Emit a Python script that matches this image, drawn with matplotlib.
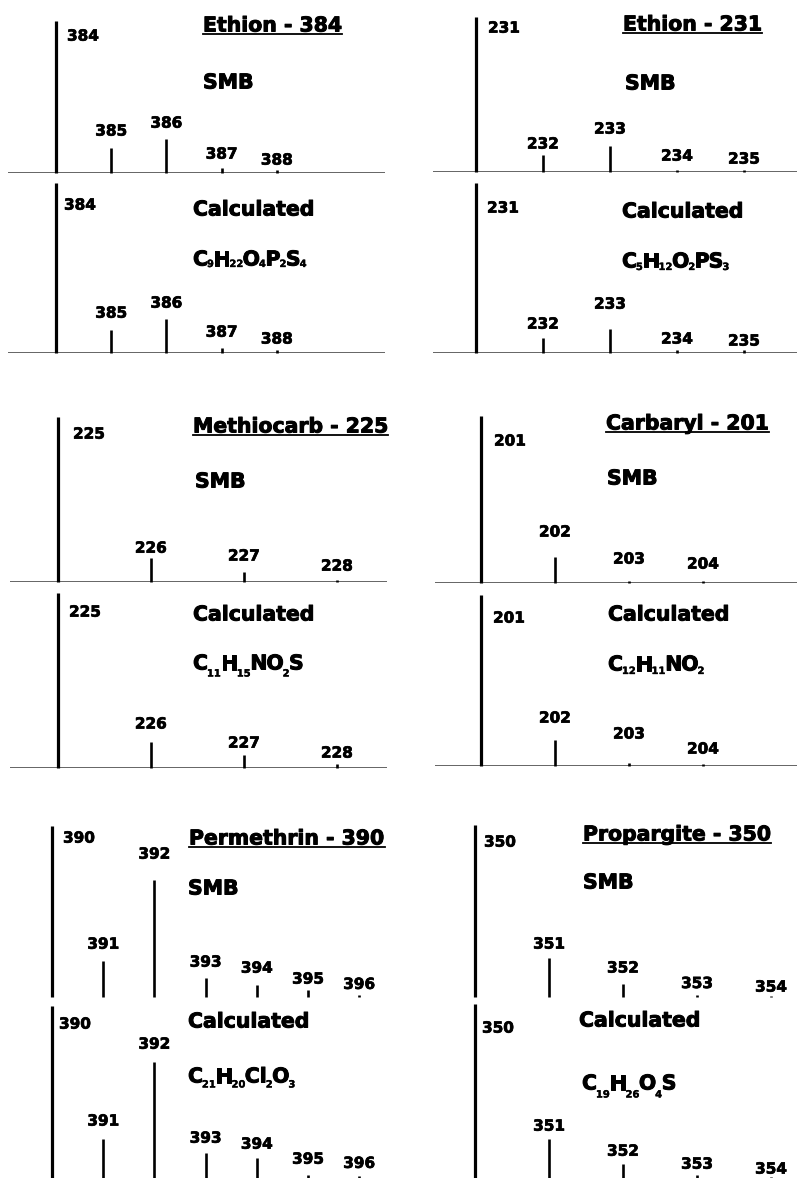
import re
import matplotlib
matplotlib.use("Agg")
import matplotlib.pyplot as plt
from matplotlib.lines import Line2D
import matplotlib.patheffects as pe

plt.rcParams['font.family'] = ['DejaVu Sans']
plt.rcParams['font.weight'] = 'bold'

# ---------------------------------------------------------------------------
# Isotope clusters: m/z and relative abundance (base peak = 100)
# ---------------------------------------------------------------------------
ethion384_mz = [384, 385, 386, 387, 388]
ethion384_smb = [100, 16.3, 22.2, 3.1, 1.8]
ethion384_calc = [100, 13.5, 20.0, 2.9, 1.8]

ethion231_mz = [231, 232, 233, 234, 235]
ethion231_smb = [100, 11.0, 16.8, 1.3, 1.3]
ethion231_calc = [100, 8.8, 14.1, 1.8, 1.8]

methiocarb_mz = [225, 226, 227, 228]
methiocarb_smb = [100, 14.5, 6.1, 1.2]
methiocarb_calc = [100, 14.9, 7.4, 2.3]

carbaryl_mz = [201, 202, 203, 204]
carbaryl_smb = [100, 15.6, 1.2, 1.2]
carbaryl_calc = [100, 15.2, 1.8, 1.2]

permethrin_mz = [390, 391, 392, 393, 394, 395, 396]
permethrin_smb = [100, 21.0, 68.4, 11.1, 7.0, 4.1, 1.0]
permethrin_calc = [100, 22.7, 67.4, 14.5, 11.6, 1.7, 1.0]

propargite_mz = [350, 351, 352, 353, 354]
propargite_smb = [100, 22.7, 7.6, 0.9, 0.6]
propargite_calc = [100, 22.4, 8.0, 1.7, 0.6]

titles = ["Ethion - 384", "Ethion - 231", "Methiocarb - 225",
          "Carbaryl - 201", "Permethrin - 390", "Propargite - 350"]
formulas = ["C9H22O4P2S4", "C5H12O2PS3", "C11H15NO2S",
            "C12H11NO2", "C21H20Cl2O3", "C19H26O4S"]

compounds = [
    (ethion384_mz, ethion384_smb, ethion384_calc),
    (ethion231_mz, ethion231_smb, ethion231_calc),
    (methiocarb_mz, methiocarb_smb, methiocarb_calc),
    (carbaryl_mz, carbaryl_smb, carbaryl_calc),
    (permethrin_mz, permethrin_smb, permethrin_calc),
    (propargite_mz, propargite_smb, propargite_calc),
]

# ---------------------------------------------------------------------------
# Page geometry (pixels from the top-left corner)
#   base_lbl : offset of the base-peak label from the stick top (right, down)
#   lift     : height of each minor-peak label centre above its stick top
#   sub_drop : how far formula subscripts sit below the letter baseline
# ---------------------------------------------------------------------------
W, H = 797, 1178
layout = [
    dict(main_x=56, ppu=55.2, span=(8, 385), baseline=True,
         smb=(172.7, 21), calc=(353, 183),
         smb_base_lbl=(11, 14), calc_base_lbl=(8, 21),
         smb_lift=[18, 17, 15, 11], calc_lift=[18, 17, 17, 12],
         title=(203, 24), smb_lbl=(203, 81), calc_lbl=(193, 208),
         formula=(193, 258), sub_drop=1.5),
    dict(main_x=476, ppu=67.0, span=(433, 797), baseline=True,
         smb=(172, 17), calc=(353, 183),
         smb_base_lbl=(12, 10), calc_base_lbl=(11, 24),
         smb_lift=[12, 18, 15, 12], calc_lift=[15, 26, 12, 10],
         title=(623, 23), smb_lbl=(625, 82), calc_lbl=(622, 210),
         formula=(622, 260), sub_drop=2.5),
    dict(main_x=58, ppu=93.0, span=(10, 387), baseline=True,
         smb=(582, 417), calc=(768, 593),
         smb_base_lbl=(15, 16), calc_base_lbl=(11, 18),
         smb_lift=[11, 17, 15], calc_lift=[19, 13, 12],
         title=(193, 425), smb_lbl=(195, 480), calc_lbl=(193, 613),
         formula=(193, 662), sub_drop=7),
    dict(main_x=481, ppu=74.0, span=(435, 797), baseline=True,
         smb=(583, 416), calc=(766, 595),
         smb_base_lbl=(13, 24), calc_base_lbl=(12, 22),
         smb_lift=[26, 23, 18], calc_lift=[23, 30, 16],
         title=(606, 422), smb_lbl=(607, 477), calc_lbl=(608, 613),
         formula=(608, 663), sub_drop=3.5),
    dict(main_x=52, ppu=51.2, span=(20, 395), baseline=False,
         smb=(997, 826), calc=(1178, 1006),
         smb_base_lbl=(11, 11), calc_base_lbl=(7, 17),
         smb_lift=[18, 27, 17, 18, 12, 12], calc_lift=[19, 19, 16, 15, 17, 14],
         title=(189, 837), smb_lbl=(188, 887), calc_lbl=(188, 1020),
         formula=(188, 1075), sub_drop=5),
    dict(main_x=475, ppu=74.0, span=(440, 797), baseline=False,
         smb=(997, 825), calc=(1178, 1004),
         smb_base_lbl=(9, 16), calc_base_lbl=(7, 23),
         smb_lift=[15, 17, 13, 10], calc_lift=[14, 14, 12, 9],
         title=(583, 833), smb_lbl=(583, 881), calc_lbl=(579, 1019),
         formula=(582, 1082), sub_drop=8),
]

BIG = 14.7      # panel headings
SUB = 7.2       # formula subscripts
NUM = 11.0      # peak labels
CAP_BIG = 7.5   # half cap height of headings, px
CAP_NUM = 5.6   # half cap height of peak labels, px
PT = 0.72       # points per pixel at 100 dpi

heavy_big = [pe.withStroke(linewidth=0.7, foreground="black")]
heavy_num = [pe.withStroke(linewidth=0.5, foreground="black")]
heavy_sub = [pe.withStroke(linewidth=0.25, foreground="black")]

fig = plt.figure(figsize=(W / 100, H / 100), dpi=100)
fig.patch.set_facecolor("white")
renderer = fig.canvas.get_renderer()


def fig_xy(px, py):
    return px / W, 1 - py / H


def heading(px, py, s, size=BIG):
    x, y = fig_xy(px, py + CAP_BIG)
    return fig.text(x, y, s, fontsize=size, fontweight="bold",
                    ha="left", va="baseline", color="black",
                    path_effects=heavy_big)


def chem_formula(px, py, formula, drop):
    """Write a molecular formula with small, lowered subscript counts."""
    base = py + CAP_BIG
    x = px
    for elem, count in re.findall(r"([A-Z][a-z]?)(\d*)", formula):
        t = fig.text(*fig_xy(x, base), elem, fontsize=BIG, fontweight="bold",
                     ha="left", va="baseline", path_effects=heavy_big)
        x += t.get_window_extent(renderer).width - 1.0
        if count:
            s = fig.text(*fig_xy(x, base + drop), count, fontsize=SUB,
                         fontweight="bold", ha="left", va="baseline",
                         path_effects=heavy_sub)
            x += s.get_window_extent(renderer).width - 0.5


def spectrum(mz, inten, geo, base_top, base_lbl, lifts):
    base_y, top_y = base_top
    x0, x1 = geo["span"]
    ax = fig.add_axes([x0 / W, 1 - base_y / H, (x1 - x0) / W, (base_y - top_y) / H])
    m0 = mz[0]
    ax.set_xlim(m0 + (x0 - geo["main_x"]) / geo["ppu"],
                m0 + (x1 - geo["main_x"]) / geo["ppu"])
    ax.set_ylim(0, 100)
    ax.axis("off")
    if geo["baseline"]:
        ax.axhline(0, color="#4a4a4a", lw=1.2, zorder=1)
    ax.vlines(mz[:1], 0, inten[:1], color="black", lw=2.3, zorder=2,
              clip_on=False)
    ax.vlines(mz[1:], 0, inten[1:], color="black", lw=1.9, zorder=2,
              clip_on=False)
    # base peak label sits to the right of the stick, below its top
    dx, dy = base_lbl
    ax.annotate(str(mz[0]), xy=(mz[0], inten[0]),
                xytext=(dx * PT, -(dy + CAP_NUM) * PT),
                textcoords="offset points", ha="left", va="baseline",
                fontsize=NUM, fontweight="bold", annotation_clip=False,
                path_effects=heavy_num)
    for m, v, lift in zip(mz[1:], inten[1:], lifts):
        ax.annotate(str(m), xy=(m, v), xytext=(0, (lift - CAP_NUM) * PT),
                    textcoords="offset points", ha="center", va="baseline",
                    fontsize=NUM, fontweight="bold", annotation_clip=False,
                    path_effects=heavy_num)
    return ax


title_texts = []
for (mz, smb, calc), geo, title, formula in zip(compounds, layout, titles, formulas):
    spectrum(mz, smb, geo, geo["smb"], geo["smb_base_lbl"], geo["smb_lift"])
    spectrum(mz, calc, geo, geo["calc"], geo["calc_base_lbl"], geo["calc_lift"])
    title_texts.append(heading(*geo["title"], title))
    heading(*geo["smb_lbl"], "SMB")
    heading(*geo["calc_lbl"], "Calculated")
    chem_formula(*geo["formula"], formula, geo["sub_drop"])

# underline the compound headings
for t, geo in zip(title_texts, layout):
    bb = t.get_window_extent(renderer)
    px, py = geo["title"]
    uy = 1 - (py + CAP_BIG + 2.5) / H
    fig.add_artist(Line2D([bb.x0 / W, bb.x1 / W], [uy, uy],
                          transform=fig.transFigure, color="black", lw=1.3))

fig.savefig("out.png", dpi=100, facecolor="white")
